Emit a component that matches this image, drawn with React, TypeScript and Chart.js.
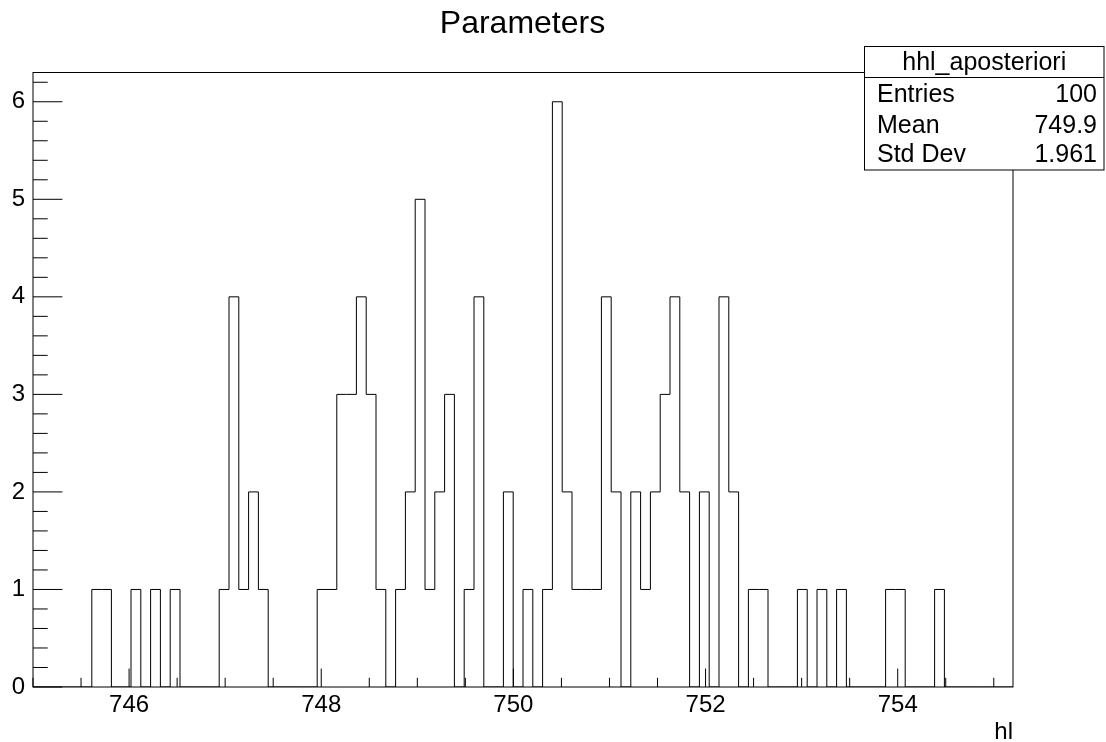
import React, { useEffect, useRef } from "react";
import { Chart, registerables } from "chart.js";

Chart.register(...registerables);

// ---- data ----
const xMin = 745;
const xMax = 755.2;
const binCounts = [
  0, 0, 0, 0, 0, 0, 1, 1, 0, 0,
  1, 0, 1, 0, 1, 0, 0, 0, 0, 1,
  4, 1, 2, 1, 0, 0, 0, 0, 0, 1,
  1, 3, 3, 4, 3, 1, 0, 1, 2, 5,
  1, 2, 3, 0, 1, 4, 0, 0, 2, 0,
  1, 0, 1, 6, 2, 1, 1, 1, 4, 2,
  0, 2, 1, 2, 3, 4, 2, 0, 2, 0,
  4, 2, 0, 1, 1, 0, 0, 0, 1, 0,
  1, 0, 1, 0, 0, 0, 0, 1, 1, 0,
  0, 0, 1, 0, 0, 0, 0, 0, 0, 0,
];
const xTickLabels = [746, 748, 750, 752, 754];
const yTickLabels = [0, 1, 2, 3, 4, 5, 6];
const yMax = 6.3;
const titleText = "Parameters";
const xAxisTitle = "hl";
const statsName = "hhl_aposteriori";
const statsLabels = ["Entries", "Mean", "Std Dev"];
const statsValues = ["100", "749.9", "1.961"];

const FONT = '"Liberation Sans", Arial, Helvetica, sans-serif';

const binWidth = (xMax - xMin) / binCounts.length;

const rootPlugin = {
  id: "rootDecor",
  afterDraw(chart: any) {
    const ctx = chart.ctx as CanvasRenderingContext2D;
    const area = chart.chartArea;
    const xs = chart.scales.x;
    const ys = chart.scales.y;
    ctx.save();
    ctx.strokeStyle = "#000";
    ctx.lineWidth = 1;

    // frame
    ctx.strokeRect(area.left, area.top, area.right - area.left, area.bottom - area.top);

    // y ticks (inside)
    const plotW = area.right - area.left;
    const plotH = area.bottom - area.top;
    for (let i = 0; i * 0.2 <= yMax + 1e-9; i++) {
      const v = i * 0.2;
      const y = ys.getPixelForValue(v);
      const len = i % 5 === 0 ? plotW * 0.03 : plotW * 0.015;
      ctx.beginPath();
      ctx.moveTo(area.left, y);
      ctx.lineTo(area.left + len, y);
      ctx.stroke();
    }
    // x ticks (inside)
    for (let i = 0; xMin + i * 0.5 <= xMax + 1e-9; i++) {
      const v = xMin + i * 0.5;
      const x = xs.getPixelForValue(v);
      const major = xTickLabels.some((t) => Math.abs(t - v) < 1e-6);
      const len = major ? plotH * 0.03 : plotH * 0.015;
      ctx.beginPath();
      ctx.moveTo(x, area.bottom);
      ctx.lineTo(x, area.bottom - len);
      ctx.stroke();
    }

    // title
    ctx.fillStyle = "#000";
    ctx.font = `32px ${FONT}`;
    ctx.textAlign = "center";
    ctx.textBaseline = "alphabetic";
    ctx.fillText(titleText, 522.5, 33);

    // x axis title
    ctx.font = `24px ${FONT}`;
    ctx.textAlign = "right";
    ctx.fillText(xAxisTitle, area.right, 739);

    // stats box
    const bx = 864.5, by = 46.5, bw = 239.5, bh = 123.5;
    ctx.fillStyle = "#fff";
    ctx.fillRect(bx, by, bw, bh);
    ctx.strokeRect(bx, by, bw, bh);
    ctx.beginPath();
    ctx.moveTo(bx, 77.5);
    ctx.lineTo(bx + bw, 77.5);
    ctx.stroke();
    ctx.fillStyle = "#000";
    ctx.font = `25px ${FONT}`;
    ctx.textAlign = "center";
    ctx.fillText(statsName, bx + bw / 2, 70);
    const baselines = [102, 133, 162];
    statsLabels.forEach((lab, i) => {
      ctx.textAlign = "left";
      ctx.fillText(lab, 877, baselines[i]);
      ctx.textAlign = "right";
      ctx.fillText(statsValues[i], 1097, baselines[i]);
    });
    ctx.restore();
  },
};

export default function App() {
  const ref = useRef<HTMLCanvasElement | null>(null);
  useEffect(() => {
    if (!ref.current) return;
    const points = binCounts.map((c, i) => ({ x: xMin + i * binWidth, y: c }));
    points.push({ x: xMax, y: 0 });
    const chart = new Chart(ref.current, {
      type: "line",
      data: {
        datasets: [
          {
            data: points,
            stepped: "before",
            borderColor: "#000",
            borderWidth: 1,
            pointRadius: 0,
            fill: false,
          } as any,
        ],
      },
      options: {
        animation: false,
        responsive: false,
        layout: { padding: { top: 72.5, right: 93, left: 0, bottom: 0 } },
        plugins: {
          legend: { display: false },
          tooltip: { enabled: false },
          title: { display: false },
        },
        scales: {
          x: {
            type: "linear",
            min: xMin,
            max: xMax,
            grid: { display: false, drawTicks: false },
            border: { display: false },
            ticks: {
              padding: 4,
              color: "#000",
              font: { family: FONT, size: 24 },
              maxRotation: 0,
              autoSkip: false,
              callback: (v: any) => String(v),
            },
            afterBuildTicks: (s: any) => {
              s.ticks = xTickLabels.map((v) => ({ value: v }));
            },
            afterFit: (s: any) => {
              s.height = 55;
            },
          },
          y: {
            type: "linear",
            min: 0,
            max: yMax,
            grid: { display: false, drawTicks: false },
            border: { display: false },
            ticks: {
              padding: 8,
              color: "#000",
              font: { family: FONT, size: 24 },
              autoSkip: false,
              callback: (v: any) => String(v),
            },
            afterBuildTicks: (s: any) => {
              s.ticks = yTickLabels.map((v) => ({ value: v }));
            },
            afterFit: (s: any) => {
              s.width = 33;
            },
          },
        },
      },
      plugins: [rootPlugin],
    });
    return () => chart.destroy();
  }, []);
  return (
    <div style={{ position: "absolute", left: 0, top: 0, width: 1106, height: 742, background: "#fff" }}>
      <canvas ref={ref} width={1106} height={742} style={{ display: "block" }} />
    </div>
  );
}
